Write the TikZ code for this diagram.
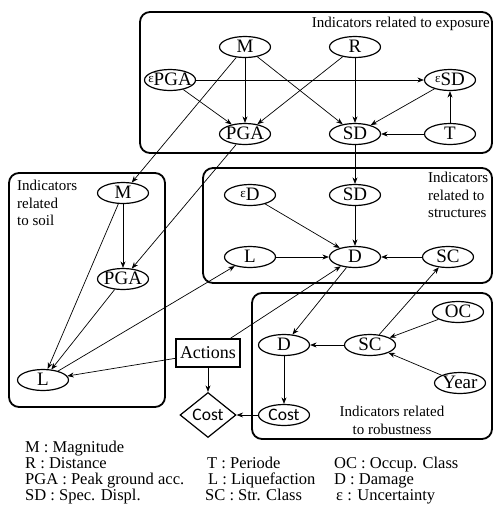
\documentclass[tikz,border=0pt]{standalone}
\usepackage{fontspec}
\setmainfont{Liberation Serif}
\newfontfamily\costfont{Carlito}
\usetikzlibrary{shapes.geometric,arrows.meta}
\newcommand{\epsm}{{\fontsize{13}{13}\selectfont\raisebox{2.5pt}{ε}}}
\newcommand{\vlab}[1]{\makebox[0pt]{#1}}
\tikzset{
 grp/.style={draw, line width=1.8pt, rounded corners=10pt},
 var/.style={ellipse, draw, line width=1.2pt, minimum width=51pt, minimum height=21pt, inner sep=0pt, text height=12pt, text depth=2pt, font=\fontsize{19}{19}\selectfont},
 arr/.style={-{Stealth[length=6.5pt,width=5pt]}, line width=0.7pt},
 note/.style={font=\fontsize{15}{17.5}\selectfont, inner sep=0pt},
 legend/.style={font=\fontsize{16.5}{16}\selectfont, inner sep=0pt, anchor=base west},
}
\begin{document}
\begin{tikzpicture}[x=1pt,y=-1pt]
\useasboundingbox (0,0) rectangle (494,507);
% group boxes
\draw[grp] (140,12) rectangle (492,153);
\draw[grp] (9,173) rectangle (165,407);
\draw[grp] (203,168) rectangle (492,283);
\draw[grp] (252,293) rectangle (492,439);
% group labels
\node[note, anchor=north east] (tExp) at (490,17) {Indicators related to exposure};
\node[note, anchor=north west, align=left] (tSoil) at (17,180) {Indicators\\related\\to soil};
\node[note, anchor=north west, align=left] (tStr) at (428,172) {Indicators\\related to\\structures};
\node[note, anchor=north, align=center] (tRob) at (392,406) {Indicators related\\to robustness};
% exposure
\node[var] (M) at (245,47) {\vlab{M}};
\node[var] (R) at (355,47) {\vlab{R}};
\node[var] (ePGA) at (170,80) {\vlab{\epsm PGA}};
\node[var] (eSD) at (450,80) {\vlab{\epsm SD}};
\node[var] (PGA) at (245,134) {\vlab{PGA}};
\node[var] (SD) at (355,134) {\vlab{SD}};
\node[var] (T) at (450,134) {\vlab{T}};
% soil
\node[var] (Ms) at (123,193) {\vlab{M}};
\node[var] (PGAs) at (123,279) {\vlab{PGA}};
\node[var] (Ls) at (43,380) {\vlab{L}};
% structures
\node[var] (eD) at (250,195) {\vlab{\epsm D}};
\node[var] (SDs) at (355,195) {\vlab{SD}};
\node[var] (Lt) at (250,257) {\vlab{L}};
\node[var] (D) at (355,257) {\vlab{D}};
\node[var] (SCt) at (448,257) {\vlab{SC}};
% robustness
\node[var] (Dr) at (284,345) {\vlab{D}};
\node[var] (SCr) at (370,345) {\vlab{SC}};
\node[var] (OC) at (458,312) {\vlab{OC}};
\node[var] (Year) at (460,383) {\vlab{Year}};
\node[var, font=\costfont\fontsize{17.5}{18}\selectfont] (Costr) at (284,415) {\vlab{Cost}};
% decision and utility
\node[draw, line width=1.2pt, minimum width=64pt, minimum height=28pt, inner sep=0pt, font=\fontsize{18}{18}\selectfont] (Act) at (208,353) {Actions};
\node[diamond, draw, line width=1.2pt, minimum width=56pt, minimum height=45pt, inner sep=0pt, font=\costfont\fontsize{17.5}{18}\selectfont] (Cost) at (208,415) {\vlab{Cost}};
% arrows exposure
\draw[arr] (M) -- (PGA);
\draw[arr] (M) -- (SD);
\draw[arr] (R) -- (PGA);
\draw[arr] (R) -- (SD);
\draw[arr] (ePGA) -- (PGA);
\draw[arr] (ePGA) -- (eSD);
\draw[arr] (eSD) -- (SD);
\draw[arr] (T) -- (SD);
\draw[arr] (T) -- (eSD);
\draw[arr] (M) -- (Ms);
\draw[arr] (PGA) -- (PGAs);
\draw[arr] (SD) -- (SDs);
% soil
\draw[arr] (Ms) -- (PGAs);
\draw[arr] (Ms) -- (Ls);
\draw[arr] (PGAs) -- (Ls);
\draw[arr] (Ls) -- (Lt);
\draw[arr] (Act) -- (Ls);
\draw[arr] (Act) -- (D);
\draw[arr] (Act) -- (Cost);
% structures
\draw[arr] (eD) -- (D);
\draw[arr] (SDs) -- (D);
\draw[arr] (Lt) -- (D);
\draw[arr] (SCt) -- (D);
\draw[arr] (D) -- (Dr);
\draw[arr] (SCr) -- (SCt);
% robustness
\draw[arr] (SCr) -- (Dr);
\draw[arr] (OC) -- (SCr);
\draw[arr] (Year) -- (SCr);
\draw[arr] (Dr) -- (Costr);
\draw[arr] (Costr) -- (Cost);
% legend
\node[legend] (l1) at (25,452) {M : Magnitude};
\node[legend] (l2) at (25,468) {R : Distance};
\node[legend] (l3) at (25,484) {PGA : Peak ground acc.};
\node[legend] (l4) at (25,500) {SD : Spec. Displ.};
\node[legend] (l5) at (207,468) {T : Periode};
\node[legend] (l6) at (208,484) {L : Liquefaction};
\node[legend] (l7) at (205,500) {SC : Str. Class};
\node[legend] (l8) at (334,468) {OC : Occup. Class};
\node[legend] (l9) at (334,484) {D : Damage};
\node[legend] (l10) at (336,500) {ε : Uncertainty};
\end{tikzpicture}
\end{document}
